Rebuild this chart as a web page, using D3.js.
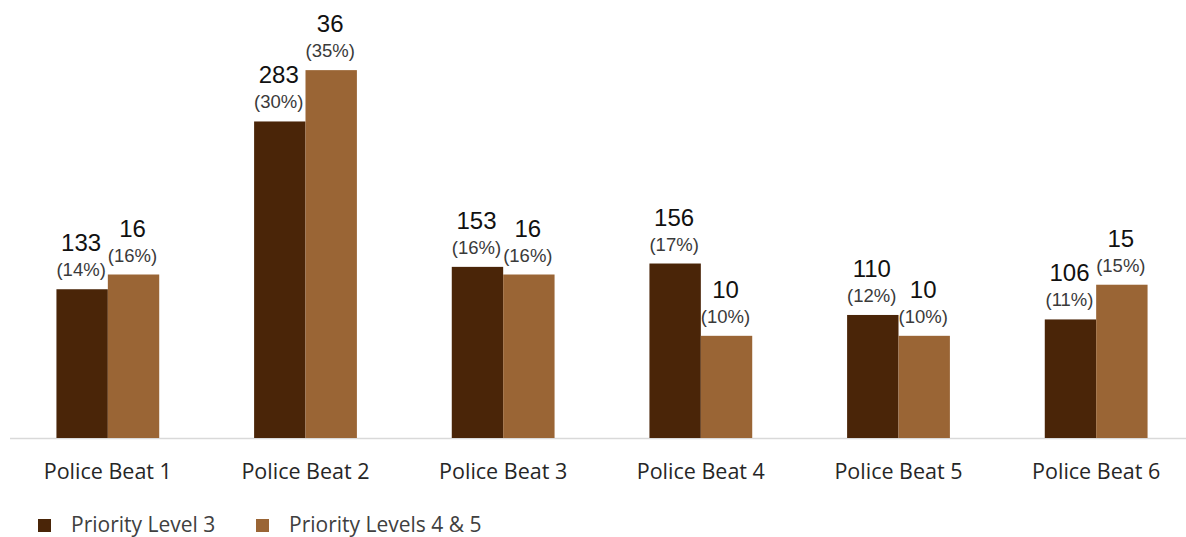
<!DOCTYPE html>
<html>
<head>
<meta charset="utf-8">
<script src="https://cdn.jsdelivr.net/npm/d3@7"></script>
<style>
  body { margin: 0; background: #fff; }
  svg { display: block; }
</style>
</head>
<body>
<svg id="chart" width="1186" height="537"></svg>
<script>
// chart data
var beats = ["Police Beat 1", "Police Beat 2", "Police Beat 3", "Police Beat 4", "Police Beat 5", "Police Beat 6"];
var seriesNames = ["Priority Level 3", "Priority Levels 4 & 5"];
var level3Counts = [133, 283, 153, 156, 110, 106];
var level45Counts = [16, 36, 16, 10, 10, 15];
var level3Pct = ["(14%)", "(30%)", "(16%)", "(17%)", "(12%)", "(11%)"];
var level45Pct = ["(16%)", "(35%)", "(16%)", "(10%)", "(10%)", "(15%)"];
var colors = ["#4a2508", "#9a6535"];

var width = 1186, height = 537;
var baseY = 438;
var svg = d3.select("#chart");

// bar height = share of each series total
var series = [
	{name: seriesNames[0], counts: level3Counts, pct: level3Pct},
	{name: seriesNames[1], counts: level45Counts, pct: level45Pct}
];
series.forEach(function(s) { s.total = d3.sum(s.counts); });

var xs = d3.scaleBand().domain(beats).range([9, 1195]).paddingInner(0.48).paddingOuter(0.24);
var xsub = d3.scaleBand().domain([0, 1]).range([0, xs.bandwidth()]);
var ys = d3.scaleLinear().domain([0, 0.4]).range([baseY, 17]);

// flatten into bars
var bars = [];
beats.forEach(function(b, i) {
	series.forEach(function(s, k) {
		bars.push({beat: b, k: k, count: s.counts[i], share: s.counts[i] / s.total, pct: s.pct[i]});
	});
});

// baseline
svg.append("line")
	.attr("x1", 10).attr("x2", width)
	.attr("y1", baseY + 0.5).attr("y2", baseY + 0.5)
	.attr("stroke", "#d9d9d9").attr("stroke-width", 1.5);

svg.append("g").selectAll("rect").data(bars).enter().append("rect")
	.attr("x", function(d) { return xs(d.beat) + xsub(d.k); })
	.attr("width", xsub.bandwidth())
	.attr("y", function(d) { return ys(d.share); })
	.attr("height", function(d) { return baseY - ys(d.share); })
	.attr("fill", function(d) { return colors[d.k]; });

// value labels
var labels = svg.append("g").attr("font-family", "'Liberation Sans', Arial, sans-serif").attr("text-anchor", "middle");
labels.selectAll("text.cnt").data(bars).enter().append("text")
	.attr("class", "cnt")
	.attr("x", function(d) { return xs(d.beat) + xsub(d.k) + xsub.bandwidth() / 2 - 1; })
	.attr("y", function(d) { return ys(d.share) - 38; })
	.attr("font-size", "24px")
	.attr("fill", "#111")
	.text(function(d) { return d.count; });
labels.selectAll("text.pct").data(bars).enter().append("text")
	.attr("class", "pct")
	.attr("x", function(d) { return xs(d.beat) + xsub(d.k) + xsub.bandwidth() / 2 - 1; })
	.attr("y", function(d) { return ys(d.share) - 13; })
	.attr("font-size", "18.5px")
	.attr("fill", "#3a3a3a")
	.text(function(d) { return d.pct; });

// category labels
svg.append("g").selectAll("text").data(beats).enter().append("text")
	.attr("x", function(d) { return xs(d) + xs.bandwidth() / 2; })
	.attr("y", 479)
	.attr("text-anchor", "middle")
	.attr("font-family", "'Open Sans', 'Noto Sans', sans-serif")
	.attr("font-size", "21.5px")
	.attr("fill", "#262626")
	.text(function(d) { return d; });

// legend
var legendX = [38, 256];
var leg = svg.append("g").selectAll("g").data(seriesNames).enter().append("g")
	.attr("transform", function(d, i) { return "translate(" + legendX[i] + ",519)"; });
leg.append("rect").attr("width", 13).attr("height", 13)
	.attr("fill", function(d, i) { return colors[i]; });
leg.append("text")
	.attr("x", 33).attr("y", 13)
	.attr("font-family", "'Open Sans', 'Noto Sans', sans-serif")
	.attr("font-size", "21px")
	.attr("fill", "#404040")
	.text(function(d) { return d; });
</script>
</body>
</html>
